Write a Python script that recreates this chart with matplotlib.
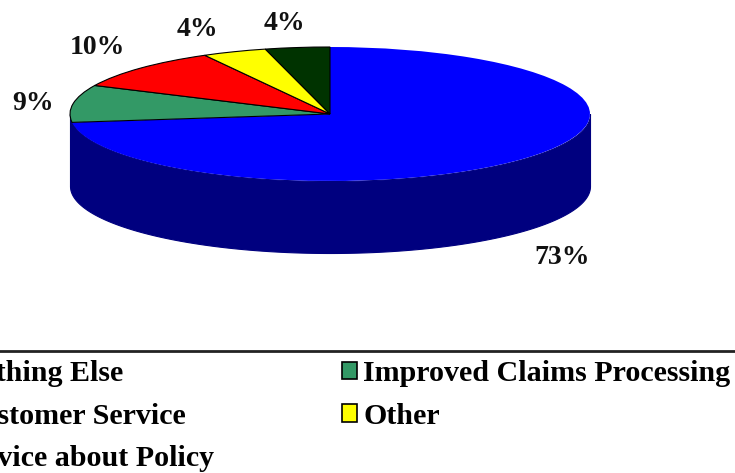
import numpy as np
import matplotlib
matplotlib.use("Agg")
import matplotlib.pyplot as plt
from matplotlib.patches import Patch

W, H = 735, 473

# slices, clockwise from 12 o'clock
names = ["Nothing Else", "Improved Claims Processing", "Customer Service", "Other", "Advice about Policy"]
values = [73, 9, 10, 4, 4]
pct_labels = ["73%", "9%", "10%", "4%", "4%"]
colors = ["#0000ff", "#339966", "#ff0000", "#ffff00", "#003300"]
side_color = "#00007f"

# label centres in pixels, from the top left of the picture
label_x = [562, 33, 97, 197, 284]
label_y = [257, 103, 47, 29, 23]

# pie geometry in pixels
cx, cy = 330, 114
rx, ry = 260, 67
depth = 72

fig = plt.figure(figsize=(W / 100, H / 100), dpi=100)
ax = fig.add_axes([0, 0, 1, 1])

# side wall, only the front half of the disc can be seen
t = np.radians(np.linspace(90, 270, 300))
ax.fill_between(np.sin(t), np.cos(t), np.cos(t) - depth / ry, color=side_color, lw=0.8)

wedges, _ = ax.pie(values, colors=colors, startangle=90, counterclock=False,
                   center=(0, 0), radius=1,
                   wedgeprops={"edgecolor": "black", "linewidth": 0.8})
wedges[0].set_edgecolor("none")

# pie() forces a round pie, squash it again
ax.set_aspect("auto")
ax.set_xlim(-cx / rx, (W - cx) / rx)
ax.set_ylim(-(H - cy) / ry, cy / ry)
ax.axis("off")

for txt, lx, ly in zip(pct_labels, label_x, label_y):
    fig.text(lx / W, 1 - ly / H, txt, ha="center", va="center",
             family="Liberation Serif", weight="bold", fontsize=20, color="#111111")

# legend is filled column by column, so reorder to read row by row
order = [0, 2, 4, 1, 3]
handles = [Patch(facecolor=colors[i], edgecolor="black", linewidth=1.2, label=names[i]) for i in order]
leg = fig.legend(handles=handles, loc="upper left", ncol=2,
                 bbox_to_anchor=(-71 / W, 1 - 351 / H), borderaxespad=0,
                 prop={"family": "Liberation Serif", "weight": "bold", "size": 21.6},
                 frameon=True, fancybox=False, edgecolor="#222222", framealpha=1,
                 handlelength=0.5, handleheight=0.5, handletextpad=0.2,
                 labelspacing=0.52, columnspacing=4.27, borderpad=0.3)
leg.get_frame().set_linewidth(2)

fig.savefig("out.png", dpi=100)
